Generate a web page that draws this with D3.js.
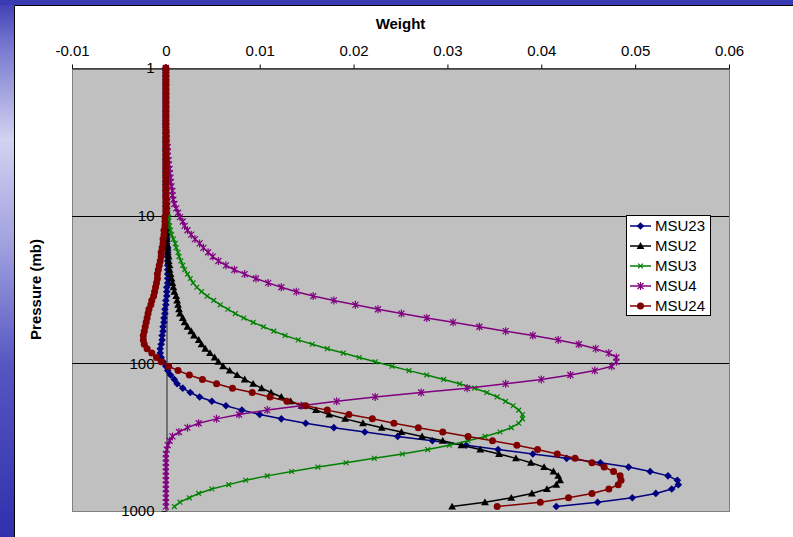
<!DOCTYPE html>
<html>
<head>
<meta charset="utf-8">
<script src="https://cdnjs.cloudflare.com/ajax/libs/d3/7.8.5/d3.min.js"></script>
<style>
body { margin: 0; overflow: hidden; background: #fff; }
text { font-family: "Liberation Sans", Arial, sans-serif; }
</style>
</head>
<body>
<div id="chart"></div>
<script>
// pressure levels (mb), top of atmosphere first
var pressure = [
  1.000, 1.071, 1.147, 1.228, 1.315, 1.408, 1.508, 1.614, 1.729, 1.851,
  1.982, 2.122, 2.273, 2.434, 2.606, 2.790, 2.988, 3.200, 3.426, 3.669,
  3.926, 4.205, 4.502, 4.822, 5.163, 5.528, 5.920, 6.339, 6.788, 7.268,
  7.780, 8.333, 8.923, 9.552, 10.23, 10.95, 11.73, 12.56, 13.45, 14.40,
  15.42, 16.51, 17.68, 18.93, 20.27, 21.70, 23.24, 24.88, 26.64, 28.53,
  30.55, 32.71, 35.03, 37.51, 40.16, 43.00, 46.04, 49.30, 52.79, 56.53,
  60.53, 64.81, 69.40, 74.31, 79.58, 85.21, 91.24, 97.70, 104.6, 112.0,
  120.0, 128.5, 137.6, 147.3, 157.7, 168.9, 180.8, 193.6, 207.4, 222.0,
  237.7, 254.6, 272.6, 291.9, 312.5, 334.6, 358.3, 383.7, 410.9, 440.0,
  470.9, 504.3, 540.0, 578.2, 619.2, 663.0, 709.9, 760.2, 814.0, 871.6,
  933.3
];

// weighting functions, one value per pressure level
var msu23 = [
  0, 0, 0, 0, 0, 0, 0, 0, 0, 0,
  0, 0, 0, 0, 0, 0, 0, 0, 0, 0,
  0, 0, 0, 0, 0, 0, 0, 0, 0, 0,
  .0001, .0001, .0001, .0001, .0001, .0001, .0001, .0001, .0001, .0001,
  .0001, .0002, .0002, .0002, .0002, .0002, .0002, .0002, .0002, .0002,
  .0001, .0001, .0001, 0, 0, -.0001, -.0001, -.0002, -.0002, -.0003,
  -.0003, -.0004, -.0004, -.0005, -.0006, -.0006, -.0005, -.0003, 0, .0002,
  .0005, .0009, .0012, .0018, .0026, .0036, .0049, .0064, .0081, .0100,
  .0123, .0149, .0179, .0212, .0247, .0284, .0320, .0354, .0391, .0427,
  .0463, .0493, .0516, .0535, .0545, .0546, .0539, .0522, .0497, .0460,
  .0416
];
var msu2 = [
  0, 0, 0, 0, 0, 0, 0, 0, 0, 0,
  0, 0, 0, 0, 0, 0, 0, 0, 0, 0,
  0, 0, 0, 0, 0, 0, 0, 0, 0, 0,
  0, 0, 0, 0, 0, .0001, .0001, .0001, .0001, .0001,
  .0001, .0002, .0002, .0003, .0003, .0004, .0004, .0005, .0006, .0007,
  .0008, .0009, .0011, .0012, .0013, .0014, .0015, .0018, .0020, .0023,
  .0027, .0030, .0035, .0038, .0042, .0047, .0052, .0056, .0061, .0068,
  .0076, .0084, .0093, .0102, .0112, .0123, .0133, .0145, .0160, .0174,
  .0191, .0210, .0230, .0251, .0273, .0295, .0315, .0335, .0355, .0373,
  .0389, .0403, .0413, .0418, .0420, .0416, .0406, .0390, .0368, .0340,
  .0305
];
var msu3 = [
  0, 0, 0, 0, 0, 0, 0, 0, 0, 0,
  0, 0, 0, 0, 0, 0, 0, 0, 0, 0,
  0, 0, 0, 0, 0, .0001, .0001, .0001, .0001, .0001,
  .0001, .0001, .0002, .0002, .0003, .0003, .0004, .0005, .0006, .0008,
  .0010, .0011, .0013, .0014, .0016, .0018, .0020, .0023, .0026, .0029,
  .0033, .0038, .0044, .0051, .0058, .0066, .0074, .0083, .0093, .0104,
  .0115, .0127, .0141, .0156, .0172, .0189, .0206, .0223, .0241, .0259,
  .0278, .0296, .0313, .0329, .0342, .0353, .0362, .0370, .0376, .0380,
  .0380, .0376, .0368, .0356, .0340, .0322, .0302, .0279, .0252, .0222,
  .0192, .0162, .0134, .0108, .0085, .0067, .0049, .0035, .0025, .0015,
  .0009
];
var msu4 = [
  0, 0, 0, 0, 0, 0, 0, 0, 0, 0,
  0, 0, 0, 0, 0, .0001, .0001, .0001, .0002, .0002,
  .0002, .0003, .0003, .0004, .0004, .0005, .0005, .0006, .0007, .0007,
  .0008, .0009, .0011, .0013, .0015, .0018, .0020, .0023, .0027, .0031,
  .0036, .0040, .0045, .0050, .0056, .0064, .0073, .0084, .0096, .0109,
  .0123, .0139, .0157, .0179, .0202, .0226, .0251, .0278, .0306, .0334,
  .0362, .0391, .0418, .0440, .0458, .0472, .0480, .0480, .0475, .0457,
  .0431, .0400, .0362, .0321, .0272, .0223, .0182, .0144, .0108, .0078,
  .0054, .0035, .0023, .0014, .0007, .0004, .0002, .0001, 0, 0,
  0, 0, 0, 0, 0, 0, 0, 0, 0, 0,
  0
];
var msu24 = [
  0, 0, 0, 0, 0, 0, 0, 0, 0, 0,
  0, 0, 0, 0, 0, 0, 0, 0, 0, 0,
  0, 0, 0, 0, 0, 0, 0, 0, 0, 0,
  0, 0, 0, 0, -.0001, -.0001, -.0001, -.0002, -.0002, -.0003,
  -.0003, -.0004, -.0005, -.0005, -.0006, -.0007, -.0008, -.0009, -.0009, -.0010,
  -.0011, -.0012, -.0013, -.0015, -.0016, -.0018, -.0019, -.0020, -.0021, -.0022,
  -.0023, -.0024, -.0024, -.0023, -.0020, -.0015, -.0010, -.0005, .0003, .0013,
  .0025, .0039, .0054, .0071, .0092, .0111, .0129, .0149, .0172, .0195,
  .0220, .0243, .0269, .0295, .0322, .0348, .0374, .0396, .0417, .0436,
  .0454, .0467, .0477, .0484, .0485, .0482, .0472, .0454, .0429, .0399,
  .0353
];

var seriesNames = ["MSU23", "MSU2", "MSU3", "MSU4", "MSU24"];
var xTicks = [-0.01, 0, 0.01, 0.02, 0.03, 0.04, 0.05, 0.06];
var xTickLabels = ["-0.01", "0", "0.01", "0.02", "0.03", "0.04", "0.05", "0.06"];
var yTicks = [1, 10, 100, 1000];

var width = 793, height = 537;
var plot = {left: 72, right: 729, top: 68, bottom: 511};

var svg = d3.select("#chart").append("svg")
    .attr("width", width)
    .attr("height", height);

// slide background (blue gradient strip on the left and top)
var grad = svg.append("defs").append("linearGradient")
    .attr("id", "slidebg")
    .attr("x1", 0).attr("y1", 0).attr("x2", 0).attr("y2", 1);
grad.append("stop").attr("offset", "0").attr("stop-color", "#3c3cb4");
grad.append("stop").attr("offset", "0.08").attr("stop-color", "#7474cf");
grad.append("stop").attr("offset", "0.26").attr("stop-color", "#d2d2f1");
grad.append("stop").attr("offset", "0.45").attr("stop-color", "#a2a2e0");
grad.append("stop").attr("offset", "0.68").attr("stop-color", "#5656c2");
grad.append("stop").attr("offset", "1").attr("stop-color", "#3030ae");

svg.append("rect").attr("width", width).attr("height", height).attr("fill", "url(#slidebg)");
svg.append("rect").attr("width", width).attr("height", 5).attr("fill", "#3a3ab2");
svg.append("rect")
    .attr("x", 14).attr("y", 5)
    .attr("width", width - 14).attr("height", height - 5)
    .attr("fill", "#fff");
svg.append("path")
    .attr("d", "M14.5," + height + "V5.5H" + width)
    .attr("fill", "none")
    .attr("stroke", "#000");

var x = d3.scaleLinear().domain([-0.01, 0.06]).range([plot.left, plot.right]);
var y = d3.scaleLog().domain([1, 1000]).range([plot.top, plot.bottom]);

// plot area
svg.append("rect")
    .attr("x", plot.left + 0.5).attr("y", plot.top + 0.5)
    .attr("width", plot.right - plot.left).attr("height", plot.bottom - plot.top)
    .attr("fill", "#c0c0c0")
    .attr("stroke", "#808080");

// horizontal gridlines at the decades
svg.append("g").selectAll("line")
    .data(yTicks.slice(1, 3))
  .enter().append("line")
    .attr("x1", plot.left).attr("x2", plot.right)
    .attr("y1", function(d) { return Math.round(y(d)) + 0.5; })
    .attr("y2", function(d) { return Math.round(y(d)) + 0.5; })
    .attr("stroke", "#000");

// top (weight) axis
var xAxis = svg.append("g")
    .attr("transform", "translate(0," + (plot.top + 0.5) + ")")
    .call(d3.axisTop(x)
      .tickValues(xTicks)
      .tickFormat(function(d, i) { return xTickLabels[i]; })
      .tickSizeInner(4)
      .tickSizeOuter(0)
      .tickPadding(9));
xAxis.selectAll("text").attr("font-size", 15).attr("fill", "#000")
    .style("font-family", "'Liberation Sans', Arial, sans-serif");
xAxis.selectAll("line, path").attr("stroke", "#000");

// pressure axis crosses at weight = 0
var yAxis = svg.append("g")
    .attr("transform", "translate(" + (Math.round(x(0)) + 0.5) + ",0)")
    .call(d3.axisLeft(y)
      .tickValues(yTicks)
      .tickFormat(d3.format("d"))
      .tickSizeInner(5)
      .tickSizeOuter(0)
      .tickPadding(7));
yAxis.selectAll("text").attr("font-size", 15).attr("fill", "#000")
    .style("font-family", "'Liberation Sans', Arial, sans-serif");
yAxis.selectAll("line, path").attr("stroke", "#222");

// axis titles
svg.append("text")
    .attr("x", (plot.left + plot.right) / 2)
    .attr("y", 29)
    .attr("text-anchor", "middle")
    .attr("font-size", 15)
    .attr("font-weight", "bold")
    .text("Weight");

svg.append("text")
    .attr("transform", "translate(41," + (plot.top + plot.bottom) / 2 + ") rotate(-90)")
    .attr("text-anchor", "middle")
    .attr("font-size", 15)
    .attr("font-weight", "bold")
    .text("Pressure (mb)");

// series: colour + marker
var series = [
  {name: seriesNames[0], values: msu23, color: "#000080", marker: "diamond"},
  {name: seriesNames[1], values: msu2, color: "#000000", marker: "triangle"},
  {name: seriesNames[2], values: msu3, color: "#008000", marker: "cross"},
  {name: seriesNames[3], values: msu4, color: "#800080", marker: "star"},
  {name: seriesNames[4], values: msu24, color: "#800000", marker: "circle"}
];

var markerPath = {
  diamond: "M0,-3.8L3.8,0L0,3.8L-3.8,0Z",
  triangle: "M0,-3.9L3.9,3L-3.9,3Z",
  cross: "M-2.4,-2.4L2.4,2.4M-2.4,2.4L2.4,-2.4",
  star: "M-3,-3L3,3M-3,3L3,-3M0,-4L0,4"
};

function drawMarker(sel, s) {
  if (s.marker == "circle") {
    sel.append("circle").attr("r", 3.5).attr("fill", s.color);
  } else if (s.marker == "cross" || s.marker == "star") {
    sel.append("path").attr("d", markerPath[s.marker])
      .attr("fill", "none").attr("stroke", s.color).attr("stroke-width", 1.2);
  } else {
    sel.append("path").attr("d", markerPath[s.marker]).attr("fill", s.color);
  }
}

var line = d3.line()
    .x(function(d) { return x(d.w); })
    .y(function(d) { return y(d.p); });

series.forEach(function(s) {
  var pts = s.values.map(function(w, i) { return {w: w, p: pressure[i]}; });
  var g = svg.append("g");
  g.append("path")
      .datum(pts)
      .attr("d", line)
      .attr("fill", "none")
      .attr("stroke", s.color)
      .attr("stroke-width", 1.5);
  g.selectAll("g.mk")
      .data(pts)
    .enter().append("g")
      .attr("class", "mk")
      .attr("transform", function(d) { return "translate(" + x(d.w) + "," + y(d.p) + ")"; })
      .each(function() { drawMarker(d3.select(this), s); });
});

// legend
var legend = svg.append("g").attr("transform", "translate(626,215)");
legend.append("rect")
    .attr("x", 0.5).attr("y", 0.5)
    .attr("width", 84).attr("height", 100)
    .attr("fill", "#fff")
    .attr("stroke", "#000");

var item = legend.selectAll("g.item")
    .data(series)
  .enter().append("g")
    .attr("class", "item")
    .attr("transform", function(d, i) { return "translate(0," + (11 + i * 20) + ")"; });
item.append("line")
    .attr("x1", 4).attr("x2", 25)
    .attr("stroke", function(d) { return d.color; })
    .attr("stroke-width", 1.5);
item.append("g")
    .attr("transform", "translate(14.5,0)")
    .each(function(d) { drawMarker(d3.select(this), d); });
item.append("text")
    .attr("x", 29)
    .attr("dy", "0.35em")
    .attr("font-size", 15)
    .text(function(d) { return d.name; });
</script>
</body>
</html>
